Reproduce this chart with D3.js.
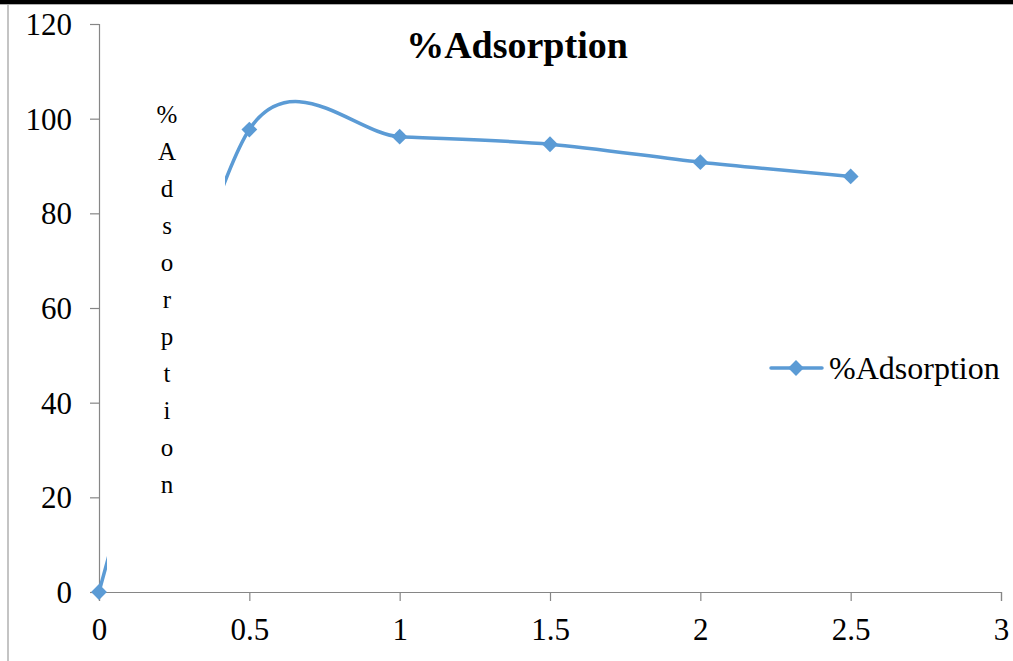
<!DOCTYPE html>
<html>
<head>
<meta charset="utf-8">
<script src="https://cdn.jsdelivr.net/npm/d3@7"></script>
<style>
  html, body { margin: 0; padding: 0; background: #fff; }
  svg { display: block; }
  text { font-family: "Liberation Serif", "Times New Roman", serif; fill: #000; }
</style>
</head>
<body>
<svg id="chart" width="1013" height="661"></svg>
<script>
// Adsorbent dose vs. percentage adsorption
const doses = [0, 0.5, 1, 1.5, 2, 2.5];
const adsorption = [0, 97.7, 96.2, 94.6, 90.8, 87.8];
const xTicks = [0, 0.5, 1, 1.5, 2, 2.5, 3];
const yTicks = [0, 20, 40, 60, 80, 100, 120];
const seriesName = "%Adsorption";
const chartTitle = "%Adsorption";
const yTitle = "%Adsorption";

const FONT = "'Liberation Serif', 'Times New Roman', serif";
const svg = d3.select("#chart");
const W = 1013, H = 661;
const color = "#5B9BD5";
const axisColor = "#868686";

svg.append("rect").attr("width", W).attr("height", H).attr("fill", "#fff");

// window frame: dark band on top, thin gray borders
svg.append("rect").attr("x", 0).attr("y", 0).attr("width", W).attr("height", 4).attr("fill", "#000");
svg.append("line").attr("x1", 0).attr("x2", W).attr("y1", 4.5).attr("y2", 4.5)
  .attr("stroke", "#b0b0b0").attr("stroke-width", 1);
svg.append("line").attr("x1", 8).attr("x2", 8).attr("y1", 5).attr("y2", H)
  .attr("stroke", "#b0b0b0").attr("stroke-width", 1.5);

const x = d3.scaleLinear().domain([0, 3]).range([99, 1001]);
const y = d3.scaleLinear().domain([0, 120]).range([592, 24]);

// y axis
const yAxis = svg.append("g").attr("transform", `translate(${x(0)},0)`)
  .call(d3.axisLeft(y).tickValues(yTicks).tickSize(9).tickPadding(18).tickFormat(d3.format("d")));
yAxis.select(".domain").attr("stroke", axisColor).attr("stroke-width", 1.2);
yAxis.selectAll(".tick line").attr("stroke", axisColor).attr("stroke-width", 1.2);
yAxis.selectAll(".tick text")
  .attr("font-family", FONT).attr("font-size", 31).attr("fill", "#000").attr("dy", "0.34em");

// x axis
const xAxis = svg.append("g").attr("transform", `translate(0,${y(0)})`)
  .call(d3.axisBottom(x).tickValues(xTicks).tickSize(9).tickPadding(17).tickFormat(d => String(d)));
xAxis.select(".domain").attr("stroke", axisColor).attr("stroke-width", 1.2);
xAxis.selectAll(".tick line").attr("stroke", axisColor).attr("stroke-width", 1.2);
xAxis.selectAll(".tick text")
  .attr("font-family", FONT).attr("font-size", 31).attr("fill", "#000");

// smoothed series line
const pts = doses.map((d, i) => [d, adsorption[i]]);
const line = d3.line().x(d => x(d[0])).y(d => y(d[1])).curve(d3.curveCardinal.tension(0.13));
svg.append("path").datum(pts).attr("d", line)
  .attr("fill", "none").attr("stroke", color).attr("stroke-width", 3.5)
  .attr("stroke-linecap", "round");

const diamond = d3.symbol().type(d3.symbolSquare).size(125);
svg.selectAll("path.marker").data(pts).enter().append("path")
  .attr("class", "marker")
  .attr("d", diamond)
  .attr("transform", d => `translate(${x(d[0])},${y(d[1])}) rotate(45)`)
  .attr("fill", color);

// y-axis title box (opaque, stacked letters)
const titleBox = svg.append("g");
titleBox.append("rect").attr("x", 107).attr("y", 92).attr("width", 118).attr("height", 480).attr("fill", "#fff");
const letters = Array.from(yTitle);
titleBox.selectAll("text").data(letters).enter().append("text")
  .attr("x", 167).attr("y", (d, i) => 123 + i * 37)
  .attr("text-anchor", "middle").attr("font-family", FONT).attr("font-size", 25)
  .text(d => d);

// chart title
svg.append("text").attr("x", 517).attr("y", 58).attr("text-anchor", "middle")
  .attr("font-family", FONT).attr("font-size", 38).attr("font-weight", "bold").text(chartTitle);

// legend
const lg = svg.append("g");
lg.append("line").attr("x1", 771).attr("x2", 822).attr("y1", 368).attr("y2", 368)
  .attr("stroke", color).attr("stroke-width", 3.5).attr("stroke-linecap", "round");
lg.append("path").attr("d", diamond).attr("transform", "translate(796,368) rotate(45)").attr("fill", color);
lg.append("text").attr("x", 829).attr("y", 379).attr("font-family", FONT).attr("font-size", 32).text(seriesName);
</script>
</body>
</html>
